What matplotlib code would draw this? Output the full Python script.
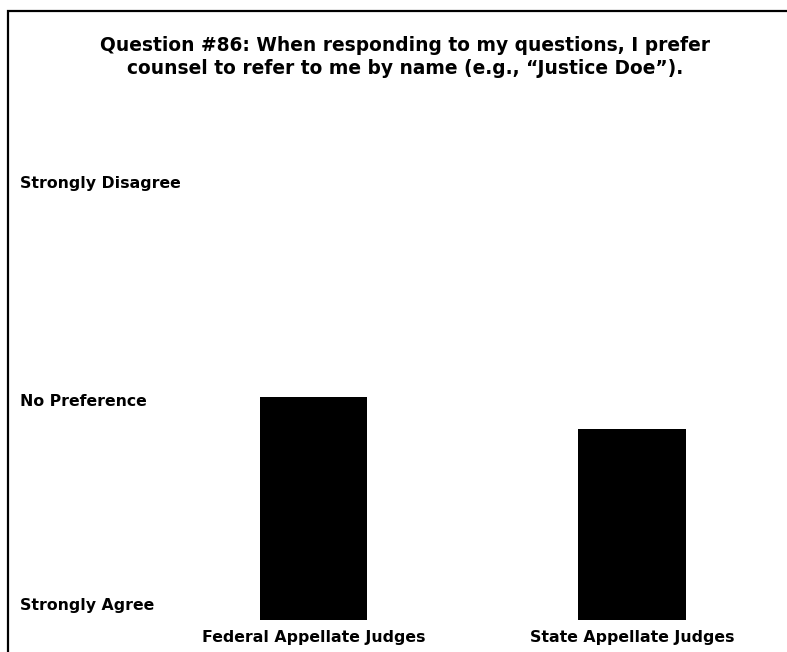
import matplotlib
matplotlib.use("Agg")
from matplotlib import pyplot as plt
from matplotlib.patches import Rectangle

# survey answers: 1 = Strongly Agree, 3 = No Preference, 5 = Strongly Disagree
groups = ["Federal Appellate Judges", "State Appellate Judges"]
means = [3.04, 2.75]
scale_values = [1, 3, 5]
scale_labels = ["Strongly Agree", "No Preference", "Strongly Disagree"]
title = ("Question #86: When responding to my questions, I prefer\n"
         "counsel to refer to me by name (e.g., \u201cJustice Doe\u201d).")

W, H = 787, 652
fig = plt.figure(figsize=(W / 100, H / 100), dpi=100)
plt.rcParams['font.family'] = ['DejaVu Sans']

# frame round the chart (right and bottom edges fall off the picture)
fig.patches.append(Rectangle((8 / W, -0.2), 1.2, 1.2 - 11 / H,
                             transform=fig.transFigure, fill=False,
                             edgecolor="black", linewidth=1.6))

ax = fig.add_axes([20 / W, 32 / H, 758 / W, 491.6 / H])
xs = list(range(len(groups)))
ax.bar(xs, [m - 1 for m in means], bottom=1, width=0.336, color="black")
ax.set_xlim((20 - 313.5) / 318.5, (778 - 313.5) / 318.5)
ax.set_ylim(1, 5.5)

ax.set_xticks(xs)
ax.set_xticklabels(groups, fontsize=11.3, fontweight="bold")
ax.tick_params(axis="x", length=0, pad=7)
ax.set_yticks([])
for s in ax.spines.values():
    s.set_visible(False)

for v, lab in zip(scale_values, scale_labels):
    va = "bottom" if v == scale_values[0] else "center"
    ax.text(0, v + (0.06 if va == "bottom" else 0), lab,
            transform=ax.get_yaxis_transform(), ha="left", va=va,
            fontsize=11.3, fontweight="bold")

fig.text(405 / W, 1 - 57 / H, title, ha="center", va="center",
         fontsize=13.4, fontweight="bold", linespacing=1.3)

fig.savefig("out.png", dpi=100)
